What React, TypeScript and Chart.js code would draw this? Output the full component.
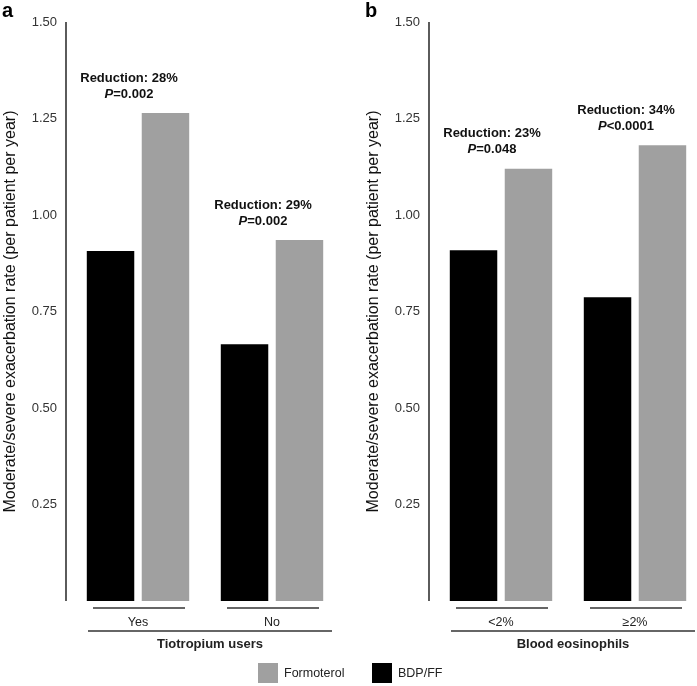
import React, { useEffect, useRef } from "react";
import { Chart, registerables } from "chart.js";

Chart.register(...registerables);

const seriesNames = ["BDP/FF", "Formoterol"];
const seriesColors = ["#000000", "#a0a0a0"];

const panelALetter = "a";
const panelACategories = ["Yes", "No"];
const panelAGroupTitle = "Tiotropium users";
const panelABdpff = [0.907, 0.665];
const panelAFormoterol = [1.264, 0.935];
const panelAReduction = ["Reduction: 28%", "Reduction: 29%"];
const panelAPValue = ["=0.002", "=0.002"];

const panelBLetter = "b";
const panelBCategories = ["<2%", "\u2265" + "2%"];
const panelBGroupTitle = "Blood eosinophils";
const panelBBdpff = [0.909, 0.787];
const panelBFormoterol = [1.12, 1.181];
const panelBReduction = ["Reduction: 23%", "Reduction: 34%"];
const panelBPValue = ["=0.048", "<0.0001"];

const yTicks = [0.25, 0.5, 0.75, 1.0, 1.25, 1.5];
const yTitle = "Moderate/severe exacerbation rate (per patient per year)";

const FONT = "'Liberation Sans', Arial, Helvetica, sans-serif";

type PanelProps = {
  letter: string;
  categories: string[];
  groupTitle: string;
  bdpff: number[];
  formoterol: number[];
  reduction: string[];
  pValue: string[];
};

function Panel(props: PanelProps) {
  const ref = useRef<HTMLCanvasElement | null>(null);
  useEffect(() => {
    if (!ref.current) return;
    const decor = {
      id: "decor",
      afterDraw(chart: any) {
        const ctx = chart.ctx as CanvasRenderingContext2D;
        const area = chart.chartArea;
        const xs = chart.scales.x;
        const ys = chart.scales.y;
        ctx.save();
        // y axis line
        ctx.strokeStyle = "#333";
        ctx.lineWidth = 1.6;
        ctx.beginPath();
        ctx.moveTo(area.left - 5, ys.getPixelForValue(1.5));
        ctx.lineTo(area.left - 5, ys.getPixelForValue(0));
        ctx.stroke();
        // category labels & underlines
        ctx.lineWidth = 1.4;
        ctx.strokeStyle = "#333";
        ctx.fillStyle = "#222";
        ctx.textAlign = "center";
        ctx.textBaseline = "middle";
        ctx.font = `12.5px ${FONT}`;
        props.categories.forEach((c, i) => {
          const cx = xs.getPixelForValue(i);
          ctx.beginPath();
          ctx.moveTo(cx - 45, area.bottom + 7);
          ctx.lineTo(cx + 47, area.bottom + 7);
          ctx.stroke();
          ctx.fillText(c, cx, area.bottom + 22);
        });
        // group line & title
        const gl = area.left + 17;
        const gr = area.right - 7;
        ctx.beginPath();
        ctx.moveTo(gl, area.bottom + 30);
        ctx.lineTo(gr, area.bottom + 30);
        ctx.stroke();
        ctx.font = `bold 13px ${FONT}`;
        ctx.fillText(props.groupTitle, (gl + gr) / 2, area.bottom + 43);
        // annotations
        props.categories.forEach((_, i) => {
          const cx = xs.getPixelForValue(i) - 9;
          const top = ys.getPixelForValue(Math.max(props.bdpff[i], props.formoterol[i]));
          const pY = top - 19;
          const rY = pY - 16;
          ctx.textAlign = "center";
          ctx.font = `bold 13px ${FONT}`;
          ctx.fillStyle = "#111";
          ctx.fillText(props.reduction[i], cx, rY);
          const rest = props.pValue[i];
          ctx.font = `italic bold 13px ${FONT}`;
          const wP = ctx.measureText("P").width;
          ctx.font = `bold 13px ${FONT}`;
          const wR = ctx.measureText(rest).width;
          const start = cx - (wP + wR) / 2;
          ctx.textAlign = "left";
          ctx.font = `italic bold 13px ${FONT}`;
          ctx.fillText("P", start, pY);
          ctx.font = `bold 13px ${FONT}`;
          ctx.fillText(rest, start + wP, pY);
        });
        // panel letter
        ctx.textAlign = "left";
        ctx.textBaseline = "alphabetic";
        ctx.font = `bold 20px ${FONT}`;
        ctx.fillStyle = "#000";
        ctx.fillText(props.letter, 2, 17);
        ctx.restore();
      },
    };
    const chart = new Chart(ref.current, {
      type: "bar",
      data: {
        labels: props.categories,
        datasets: [
          {
            label: seriesNames[0],
            data: props.bdpff,
            backgroundColor: seriesColors[0],
            borderWidth: 0,
            categoryPercentage: 0.82,
            barPercentage: 0.864,
          },
          {
            label: seriesNames[1],
            data: props.formoterol,
            backgroundColor: seriesColors[1],
            borderWidth: 0,
            categoryPercentage: 0.82,
            barPercentage: 0.864,
          },
        ],
      },
      options: {
        responsive: false,
        animation: false,
        layout: { padding: { top: 22, right: 11, bottom: 85, left: 0 } },
        plugins: {
          legend: { display: false },
          tooltip: { enabled: false },
        },
        scales: {
          x: { display: false },
          y: {
            min: 0,
            max: 1.5,
            afterFit: (scale: any) => {
              scale.width = 71;
            },
            afterBuildTicks: (scale: any) => {
              scale.ticks = yTicks.map((v) => ({ value: v }));
            },
            grid: { display: false, drawTicks: false },
            border: { display: false },
            ticks: {
              padding: 14,
              color: "#333",
              font: { family: FONT, size: 13 },
              callback: (v: any) => Number(v).toFixed(2),
            },
            title: {
              display: true,
              text: yTitle,
              color: "#111",
              font: { family: FONT, size: 16 },
              padding: { top: 1, bottom: 1 },
            },
          },
        },
      },
      plugins: [decor],
    });
    return () => chart.destroy();
  }, []);
  return <canvas ref={ref} width={350} height={686} style={{ display: "block" }} />;
}

export default function App() {
  return (
    <div
      style={{
        position: "absolute",
        left: 0,
        top: 0,
        width: 697,
        height: 686,
        overflow: "hidden",
        background: "#fff",
        fontFamily: FONT,
      }}
    >
      <div style={{ position: "absolute", left: 0, top: 0 }}>
        <Panel
          letter={panelALetter}
          categories={panelACategories}
          groupTitle={panelAGroupTitle}
          bdpff={panelABdpff}
          formoterol={panelAFormoterol}
          reduction={panelAReduction}
          pValue={panelAPValue}
        />
      </div>
      <div style={{ position: "absolute", left: 363, top: 0 }}>
        <Panel
          letter={panelBLetter}
          categories={panelBCategories}
          groupTitle={panelBGroupTitle}
          bdpff={panelBBdpff}
          formoterol={panelBFormoterol}
          reduction={panelBReduction}
          pValue={panelBPValue}
        />
      </div>
      {/* legend */}
      {[1, 0].map((idx, k) => (
        <div
          key={idx}
          style={{
            position: "absolute",
            left: k === 0 ? 258 : 372,
            top: 663,
            height: 20,
            display: "flex",
            alignItems: "center",
            fontSize: 12.5,
            color: "#222",
            whiteSpace: "nowrap",
          }}
        >
          <span
            style={{
              display: "inline-block",
              width: 20,
              height: 20,
              background: seriesColors[idx],
              marginRight: 6,
            }}
          />
          <span>{seriesNames[idx]}</span>
        </div>
      ))}
    </div>
  );
}
